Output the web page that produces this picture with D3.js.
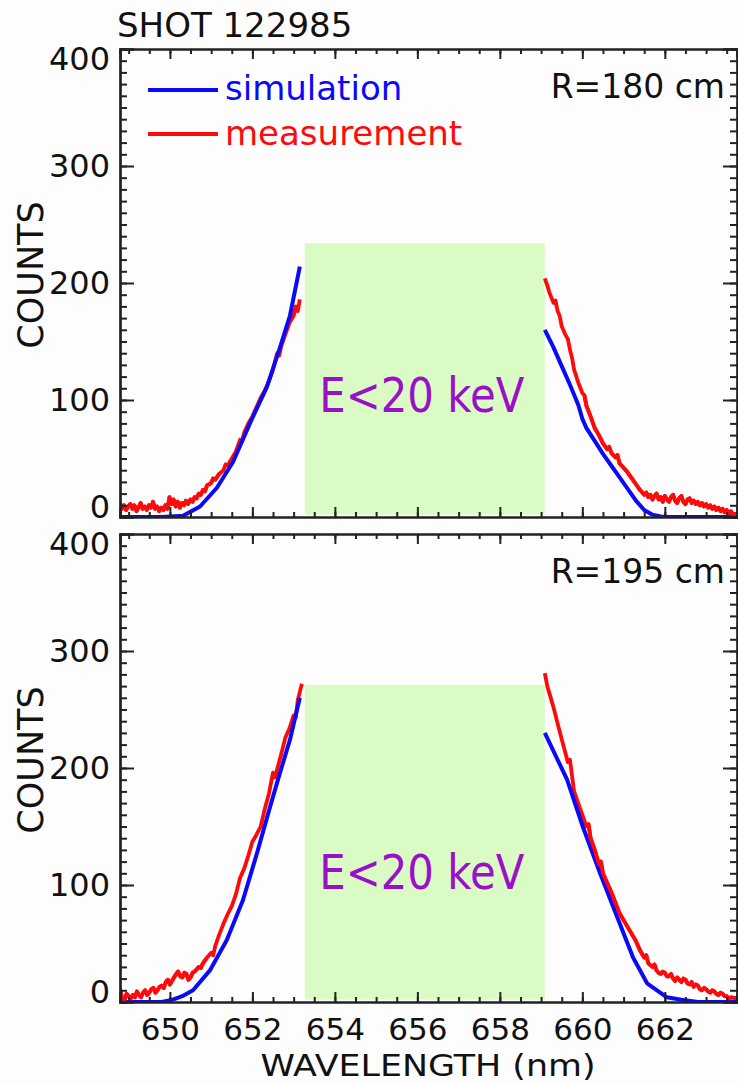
<!DOCTYPE html>
<html>
<head>
<meta charset="utf-8">
<script src="https://cdn.jsdelivr.net/npm/d3@7"></script>
<style>
  body { margin: 0; background: #fdfdfd; }
  svg { display: block; font-family: "DejaVu Sans", sans-serif; }
</style>
</head>
<body>
<div id="draw"></div>
<script>
// data (wavelength nm, counts)
const wlTicks = [650, 652, 654, 656, 658, 660, 662];
const countTicks = [0, 100, 200, 300, 400];
const panelLabels = ['R=180 cm', 'R=195 cm'];
const boxRange = [653.27, 659.09];
const boxTops = [234, 271];
const boxLabelCounts = [90, 97];

const simLeft180 = [[648.79,0],[649.8,0],[650.32,1],[650.73,9],[651.14,25],[651.53,47],[651.94,80],[652.35,111],[652.67,145],[652.91,172],[653.15,214]];
const simRight180 = [[659.09,160],[659.3,145],[659.5,129],[659.7,113],[659.9,96],[660.0,84],[660.1,76],[660.3,65],[660.5,54],[660.7,44],[660.9,34],[661.1,24],[661.3,14],[661.5,6],[661.7,2],[661.9,0.5],[662.1,0],[663.75,0]];
const measLeft180 = [[648.79,12],[648.84,7],[648.89,10],[648.94,6],[648.99,9],[649.04,11],[649.09,7],[649.14,10],[649.19,5],[649.24,8],[649.29,12],[649.34,7],[649.39,9],[649.44,6],[649.49,10],[649.54,8],[649.59,13],[649.64,7],[649.69,9],[649.74,5],[649.79,8],[649.84,6],[649.89,10],[649.94,7],[649.99,17],[650.04,11],[650.09,15],[650.14,9],[650.19,13],[650.24,8],[650.29,12],[650.34,10],[650.39,14],[650.44,11],[650.5,15],[650.55,13],[650.6,17],[650.65,16],[650.7,20],[650.75,19],[650.8,23],[650.85,22],[650.9,27],[651.0,29],[651.05,33],[651.1,32],[651.2,37],[651.3,40],[651.35,45],[651.4,44],[651.5,50],[651.6,56],[651.7,66],[651.75,65],[651.8,72],[651.9,80],[652.0,86],[652.1,94],[652.2,102],[652.3,108],[652.4,116],[652.5,126],[652.6,140],[652.65,138],[652.7,146],[652.8,156],[652.9,166],[653.0,172],[653.05,180],[653.1,176],[653.15,186]];
const measRight180 = [[659.09,204],[659.15,198],[659.2,192],[659.3,183],[659.35,185],[659.4,176],[659.45,172],[659.5,163],[659.6,155],[659.65,152],[659.7,143],[659.75,136],[659.8,126],[659.9,115],[660.0,106],[660.05,104],[660.1,95],[660.2,86],[660.3,76],[660.4,70],[660.5,63],[660.6,58],[660.65,60],[660.7,55],[660.8,51],[660.85,53],[660.9,46],[661.0,42],[661.1,38],[661.2,33],[661.3,28],[661.4,23],[661.5,19],[661.55,21],[661.6,17],[661.65,19],[661.7,15],[661.75,18],[661.8,20],[661.85,15],[661.9,17],[661.95,13],[662.0,18],[662.05,15],[662.1,13],[662.15,17],[662.2,19],[662.25,14],[662.3,12],[662.35,16],[662.4,18],[662.45,13],[662.5,11],[662.55,15],[662.6,16],[662.65,12],[662.7,14],[662.75,11],[662.8,13],[662.85,10],[662.9,12],[662.95,9],[663.0,11],[663.05,8],[663.1,10],[663.15,7],[663.2,9],[663.25,6],[663.3,8],[663.35,5],[663.4,7],[663.45,4],[663.5,6],[663.55,3],[663.6,5],[663.65,2],[663.75,3]];

const simLeft195 = [[648.79,0],[649.8,0],[650.07,2],[650.3,5],[650.56,10],[650.97,27],[651.38,53],[651.77,87],[652.11,127],[652.43,167],[652.67,196],[652.91,224],[653.15,260]];
const simRight195 = [[659.09,230],[659.63,190],[660.01,150],[660.43,110],[660.84,73],[661.23,38],[661.57,16],[662.05,4],[662.4,2],[662.8,0],[663.75,0]];
const measLeft195 = [[648.79,12],[648.82,6],[648.85,3],[648.9,2],[648.95,7],[649.0,5],[649.05,3],[649.1,6],[649.15,4],[649.2,9],[649.25,6],[649.3,4],[649.35,8],[649.4,10],[649.45,6],[649.5,8],[649.55,11],[649.6,12],[649.65,8],[649.7,10],[649.75,13],[649.8,14],[649.85,12],[649.9,17],[649.95,19],[650.0,15],[650.05,18],[650.1,21],[650.15,24],[650.2,26],[650.25,22],[650.3,21],[650.35,25],[650.4,24],[650.45,19],[650.5,21],[650.55,25],[650.6,26],[650.65,28],[650.7,30],[650.75,29],[650.8,33],[650.9,38],[651.0,42],[651.05,40],[651.1,48],[651.2,58],[651.3,67],[651.4,75],[651.5,82],[651.6,92],[651.7,106],[651.8,114],[651.9,125],[652.0,137],[652.1,143],[652.2,150],[652.3,165],[652.4,178],[652.5,196],[652.55,192],[652.6,199],[652.7,212],[652.8,226],[652.9,234],[653.0,245],[653.05,243],[653.1,258],[653.2,272]];
const measRight195 = [[659.09,281],[659.15,270],[659.3,252],[659.4,238],[659.55,218],[659.65,205],[659.7,207],[659.8,180],[659.9,170],[660.0,160],[660.1,150],[660.15,152],[660.2,140],[660.3,130],[660.4,118],[660.45,120],[660.5,110],[660.6,102],[660.7,94],[660.8,85],[660.9,76],[661.0,70],[661.1,64],[661.2,58],[661.3,52],[661.4,44],[661.5,38],[661.55,40],[661.6,33],[661.7,30],[661.75,32],[661.8,27],[661.85,25],[661.9,24],[661.95,26],[662.0,25],[662.05,22],[662.1,22],[662.15,24],[662.2,20],[662.25,18],[662.3,21],[662.35,19],[662.4,17],[662.45,20],[662.5,19],[662.55,16],[662.6,15],[662.65,17],[662.7,13],[662.75,15],[662.8,14],[662.85,11],[662.9,10],[662.95,12],[663.0,11],[663.05,9],[663.1,8],[663.15,10],[663.2,9],[663.25,7],[663.3,6],[663.35,8],[663.4,7],[663.45,5],[663.5,5],[663.55,3],[663.6,4],[663.75,3]];

const panelData = [
    { sim: [simLeft180, simRight180], meas: [measLeft180, measRight180] },
    { sim: [simLeft195, simRight195], meas: [measLeft195, measRight195] }
];

// parameters
let width = 738, height = 1083;
let left = 120, right = 737;
let panelTops = [49, 534], panelH = 468;
let blue = '#0a0af5', red = '#ff0a0a', green = '#dafbc3', purple = '#9a10c8', axisColor = '#222';

let svg = d3.select('#draw').append('svg').attr('width', width).attr('height', height);

let x = d3.scaleLinear().domain([648.79, 663.75]).range([left, right]);
let minorX = d3.range(649, 663.8, 0.5);
let minorY = d3.range(0, 401, 10);

panelData.forEach((p, i) => {
    let top = panelTops[i], bottom = top + panelH;
    let y = d3.scaleLinear().domain([0, 400]).range([bottom, top]);
    let line = d3.line().x(d => x(d[0])).y(d => y(d[1]));

    let g = svg.append('g');

    svg.append('clipPath').attr('id', 'clip' + i)
        .append('rect').attr('x', left).attr('y', top).attr('width', right - left).attr('height', panelH);

    // green box
    g.append('rect')
        .attr('x', x(boxRange[0]))
        .attr('y', y(boxTops[i]))
        .attr('width', x(boxRange[1]) - x(boxRange[0]))
        .attr('height', y(2) - y(boxTops[i]))
        .style('fill', green);

    g.append('text')
        .attr('x', (x(boxRange[0]) + x(boxRange[1])) / 2 - 3)
        .attr('y', y(boxLabelCounts[i]))
        .attr('text-anchor', 'middle')
        .attr('textLength', 205)
        .attr('lengthAdjust', 'spacingAndGlyphs')
        .style('font-size', '48px')
        .style('fill', purple)
        .text('E<20 keV');

    // curves
    let curves = g.append('g').attr('clip-path', 'url(#clip' + i + ')');
    p.meas.forEach(seg => {
        curves.append('path').attr('d', line(seg))
            .style('fill', 'none').style('stroke', red).style('stroke-width', 3.8).style('stroke-linejoin', 'round');
    });
    p.sim.forEach(seg => {
        curves.append('path').attr('d', line(seg))
            .style('fill', 'none').style('stroke', blue).style('stroke-width', 4).style('stroke-linejoin', 'round');
    });
    // measurement tails sit on top of the simulation near the base
    p.meas.forEach(seg => {
        curves.append('path').attr('d', line(seg.filter(d => d[1] < 40 || d[0] > 660)))
            .style('fill', 'none').style('stroke', red).style('stroke-width', 3.8).style('stroke-linejoin', 'round');
    });

    // axes (ticks inward)
    let ax = g.append('g').attr('class', 'axes');
    let leftMajor = ax.append('g').attr('transform', 'translate(' + left + ',0)')
        .call(d3.axisLeft(y).tickValues(countTicks).tickSize(-14).tickPadding(10));
    ax.append('g').attr('transform', 'translate(' + left + ',0)')
        .call(d3.axisLeft(y).tickValues(minorY).tickSize(-7).tickFormat(''));
    ax.append('g').attr('transform', 'translate(' + right + ',0)')
        .call(d3.axisRight(y).tickValues(countTicks).tickSize(-14).tickFormat(''));
    ax.append('g').attr('transform', 'translate(' + right + ',0)')
        .call(d3.axisRight(y).tickValues(minorY).tickSize(-7).tickFormat(''));
    let bottomMajor = ax.append('g').attr('transform', 'translate(0,' + bottom + ')')
        .call(d3.axisBottom(x).tickValues(wlTicks).tickSize(-10).tickPadding(18).tickFormat(i == 1 ? d3.format('d') : ''));
    ax.append('g').attr('transform', 'translate(0,' + bottom + ')')
        .call(d3.axisBottom(x).tickValues(minorX).tickSize(-5).tickFormat(''));
    ax.append('g').attr('transform', 'translate(0,' + top + ')')
        .call(d3.axisTop(x).tickValues(wlTicks).tickSize(-10).tickFormat(''));
    ax.append('g').attr('transform', 'translate(0,' + top + ')')
        .call(d3.axisTop(x).tickValues(minorX).tickSize(-5).tickFormat(''));

    ax.selectAll('.domain').style('stroke', axisColor).style('stroke-width', 2.2);
    ax.selectAll('.tick line').style('stroke', axisColor).style('stroke-width', 2);
    ax.selectAll('.tick text').style('font-family', '"DejaVu Sans", sans-serif').style('fill', '#111');

    leftMajor.selectAll('.tick text')
        .style('font-size', '32px')
        .attr('dy', d => d == 0 ? '0em' : d == 400 ? '0.65em' : '0.32em');
    bottomMajor.selectAll('.tick text').style('font-size', '31px').attr('dy', '0.66em');

    // panel label
    g.append('text')
        .attr('x', 725).attr('y', top + 49)
        .attr('text-anchor', 'end')
        .style('font-size', '33px').style('fill', '#111')
        .text(panelLabels[i]);

    // y title
    g.append('text')
        .attr('transform', 'translate(43,' + ((top + bottom) / 2 - 8) + ') rotate(-90)')
        .attr('text-anchor', 'middle')
        .style('font-size', '35px').style('fill', '#111')
        .text('COUNTS');
});

// legend
let legend = svg.append('g');
legend.append('line').attr('x1', 148).attr('x2', 218).attr('y1', 90).attr('y2', 90)
    .style('stroke', blue).style('stroke-width', 4);
legend.append('text').attr('x', 225).attr('y', 100)
    .style('font-size', '34px').style('fill', blue).text('simulation');
legend.append('line').attr('x1', 148).attr('x2', 218).attr('y1', 134).attr('y2', 134)
    .style('stroke', red).style('stroke-width', 4);
legend.append('text').attr('x', 225).attr('y', 145)
    .style('font-size', '34px').style('fill', red).text('measurement');

// titles
svg.append('text').attr('x', 428).attr('y', 1076)
    .attr('text-anchor', 'middle')
    .attr('textLength', 335)
    .attr('lengthAdjust', 'spacingAndGlyphs')
    .style('font-size', '31px').style('fill', '#111').text('WAVELENGTH (nm)');
svg.append('text').attr('x', 117).attr('y', 37)
    .style('font-size', '34px').style('fill', '#111').text('SHOT 122985');
</script>
</body>
</html>
